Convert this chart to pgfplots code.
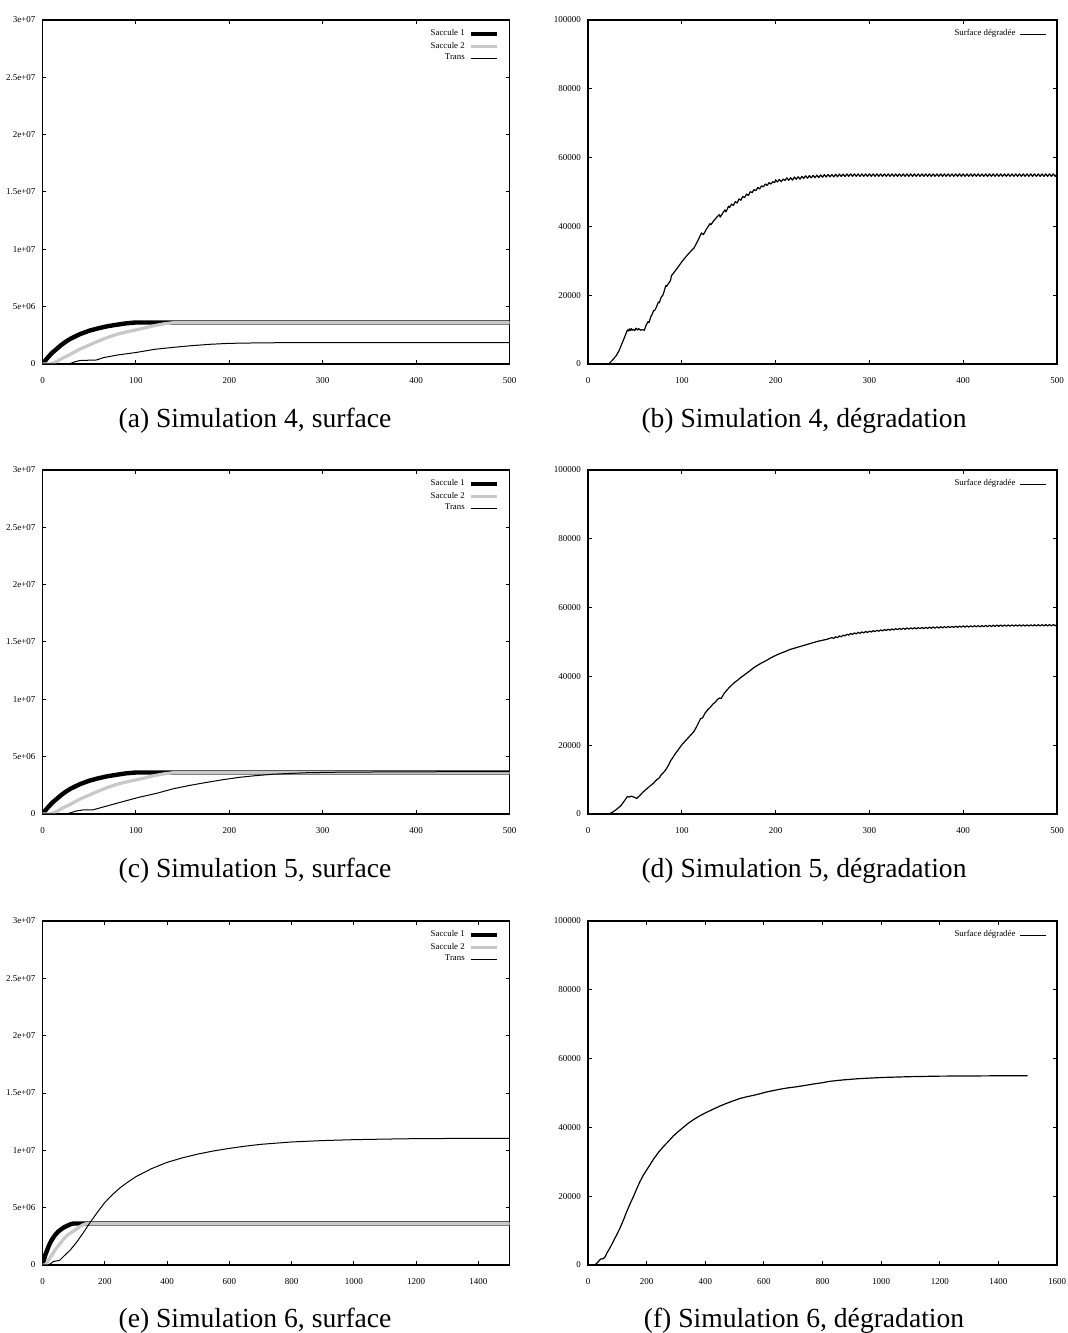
\documentclass[border=0pt]{standalone}
\usepackage{fontspec}
\setmainfont{Liberation Serif}
\usepackage{pgfplots}
\usepackage{pgfplotstable}
\pgfplotsset{compat=1.18}
\definecolor{lgray}{RGB}{200,200,200}
\pgfplotsset{
 gp/.style={
  scale only axis, anchor=south west,
  axis line style={line width=0.6pt},
  every tick/.style={black, line width=0.5pt},
  major tick length=1.8pt,
  tick align=inside,
  xtick pos=both, ytick pos=both,
  ticklabel style={font=\fontsize{4.5}{5}\selectfont},
  xticklabel style={yshift=-3pt},
  /pgf/number format/assume math mode=true,
  scaled ticks=false,
  legend style={draw=none, fill=none, at={(1,1)}, anchor=north east, xshift=-4.5pt, yshift=-3.5pt,
    font=\fontsize{4.4}{5}\selectfont, row sep=0.4pt, column sep=1.4pt, inner sep=0.5pt,
    nodes={inner sep=0.6pt}},
  legend cell align=right,
  legend plot pos=right,
  legend image code/.code={\draw[##1] (0pt,0pt) -- (13pt,0pt);},
 },
 surf/.style={gp, xmin=0, xmax=500, ymin=0, ymax=3e7,
   width=233.5pt, height=172pt,
   xtick={0,100,200,300,400,500}, xticklabels={0,100,200,300,400,500},
   ytick={0,5e6,1e7,1.5e7,2e7,2.5e7,3e7},
   yticklabels={0,5e+06,1e+07,1.5e+07,2e+07,2.5e+07,3e+07}},
 degr/.style={gp, xmin=0, xmax=500, ymin=0, ymax=100000,
   width=234.5pt, height=172pt,
   xtick={0,100,200,300,400,500}, xticklabels={0,100,200,300,400,500},
   ytick={0,20000,40000,60000,80000,100000},
   yticklabels={0,20000,40000,60000,80000,100000}},
 s1/.style={black, line width=2.2pt, line join=round},
 s2/.style={lgray, line width=1.6pt, line join=round},
 tr/.style={black, line width=0.5pt, line join=round},
 dg/.style={black, line width=0.6pt, line join=round},
}
\pgfplotstableread{
x y
0 0
5 500000
10 950000
15 1300000
20 1650000
25 1950000
30 2200000
35 2400000
40 2600000
50 2900000
60 3120000
70 3300000
80 3430000
90 3550000
100 3620000
1500 3620000
}\sacone
\pgfplotstableread{
x y
0 0
8 0
12 100000
16 250000
20 450000
30 850000
40 1300000
50 1650000
60 2000000
70 2330000
80 2600000
90 2800000
100 2970000
110 3150000
120 3350000
130 3500000
140 3600000
1500 3600000
}\sactwo
\begin{document}
\begin{tikzpicture}
\useasboundingbox (0,0) rectangle (533.5pt,666.5pt);
% (a)
\begin{axis}[surf, at={(21.25pt,484.5pt)}]
\addplot[s1] table {\sacone};
\addlegendentry{Saccule 1}
\addplot[s2] table {\sactwo};
\addlegendentry{Saccule 2}
\addplot[tr] coordinates {(0,0) (25,0) (30,50000) (35,200000) (40,300000) (50,330000) (58,350000) (65,550000) (80,780000) (100,1000000) (120,1280000) (140,1450000) (160,1600000) (180,1720000) (200,1800000) (230,1840000) (260,1860000) (500,1860000)};
\addlegendentry{Trans}
\end{axis}
% (b)
\begin{axis}[degr, at={(294pt,484.5pt)}]
\addplot[dg] coordinates {(0,0) (22,0) (26,1100) (30,2400) (33,3800) (36,5800) (39,7800) (42,9900) (43,9600) (44,10200) (45,9700) (46,10300) (47,9800) (48,10100) (50,9700) (51,10400) (53,9900) (54,10300) (56,9800) (58,10000) (60,9800) (62,11300) (64,12300) (65,12000) (67,13800) (68,14200) (70,15600) (71,15500) (73,16600) (75,18000) (76,17800) (78,19400) (80,20100) (83,22800) (84,22600) (86,23500) (88,24300) (89,25700) (90,26000) (95,27800) (100,29700) (105,31400) (110,32900) (113,33700) (117,35800) (121,38100) (123,37600) (126,39100) (130,40800) (131,40500) (134,41600) (138,42900) (140,43400) (141,42700) (144,44000) (146,44800) (147,44200) (150,45900) (151,45500) (153,46500) (155,46100) (157,47200) (159,46800) (161,48000) (163,47600) (165,48700) (167,48400) (169,49400) (171,49000) (173,50100) (175,49800) (177,50700) (179,50400) (181,51300) (183,50900) (185,51800) (187,51500) (189,52300) (191,51900) (193,52700) (195,52300) (197,53000) (199,52700)
(200,53550) (202,52900) (204,53650) (206,53000) (208,53750) (210,53350) (212,54100) (214,53400) (216,54150) (218,53450) (220,54350) (222,53700) (224,54450) (226,53750) (228,54550) (230,53950) (232,54700) (234,54000) (236,54750) (238,54100) (240,54850) (242,54150) (244,54900) (246,54200) (248,54950) (250,54300) (252,55050) (254,54350) (256,55100) (258,54400) (260,55100) (262,54400) (264,55150) (266,54450) (268,55200) (270,54500) (272,55200) (274,54500) (276,55250) (278,54550)
(280,55250) (282,54550) (284,55250) (286,54550) (288,55250) (290,54550) (292,55250) (294,54550) (296,55250) (298,54550) (300,55250) (302,54550) (304,55250) (306,54550) (308,55250) (310,54550) (312,55250) (314,54550) (316,55250) (318,54550) (320,55250) (322,54550) (324,55250) (326,54550) (328,55250) (330,54550) (332,55250) (334,54550) (336,55250) (338,54550) (340,55250) (342,54550) (344,55250) (346,54550) (348,55250) (350,54550) (352,55250) (354,54550) (356,55250) (358,54550) (360,55250) (362,54550) (364,55250) (366,54550) (368,55250) (370,54550) (372,55250) (374,54550) (376,55250) (378,54550) (380,55250) (382,54550) (384,55250) (386,54550) (388,55250) (390,54550) (392,55250) (394,54550) (396,55250) (398,54550) (400,55250) (402,54550) (404,55250) (406,54550) (408,55250) (410,54550) (412,55250) (414,54550) (416,55250) (418,54550) (420,55250) (422,54550) (424,55250) (426,54550) (428,55250) (430,54550) (432,55250) (434,54550) (436,55250) (438,54550) (440,55250) (442,54550) (444,55250) (446,54550) (448,55250) (450,54550) (452,55250) (454,54550) (456,55250) (458,54550) (460,55250) (462,54550) (464,55250) (466,54550) (468,55250) (470,54550) (472,55250) (474,54550) (476,55250) (478,54550) (480,55250) (482,54550) (484,55250) (486,54550) (488,55250) (490,54550) (492,55250) (494,54550) (496,55250) (498,54550) (500,55250)};
\addlegendentry{Surface dégradée}
\end{axis}
% (c)
\begin{axis}[surf, at={(21.25pt,259.5pt)}]
\addplot[s1] table {\sacone};
\addlegendentry{Saccule 1}
\addplot[s2] table {\sactwo};
\addlegendentry{Saccule 2}
\addplot[tr] coordinates {(0,0) (25,0) (30,100000) (36,260000) (43,350000) (54,360000) (69,700000) (87,1100000) (104,1470000) (122,1800000) (140,2200000) (158,2500000) (176,2760000) (194,3000000) (211,3200000) (229,3350000) (247,3470000) (283,3600000) (320,3650000) (400,3680000) (500,3700000)};
\addlegendentry{Trans}
\end{axis}
% (d)
\begin{axis}[degr, at={(294pt,259.5pt)}]
\addplot[dg] coordinates {(0,0) (22,0) (26,500) (30,1260) (35,2400) (39,3900) (42,5100) (44,4900) (46,5200) (48,5000) (50,4800) (52,4500) (55,5300) (58,6200) (60,6700) (63,7400) (66,8100) (70,9000) (73,9900) (76,10500) (78,11400) (80,11900) (83,12900) (85,13800) (87,14800) (88,15500) (90,16200) (93,17500) (96,18600) (100,20100) (105,21600) (110,23100) (113,24000) (116,25500) (120,27700) (122,27900) (125,29400) (128,30400) (130,30900) (133,31900) (136,32600) (138,33300) (140,33700) (142,33600) (145,35000) (148,36000) (150,36600) (153,37400) (156,38200) (160,39000) (163,39700) (166,40300) (170,41100) (173,41700) (176,42400) (180,43100) (185,43900) (190,44600) (195,45400) (200,46100) (205,46700) (210,47200) (215,47800) (220,48200) (225,48600) (230,49000) (235,49400) (240,49800) (245,50200) (250,50500) (255,50800)
(260,51280) (262,51040) (264,51520) (266,51280) (268,51760) (270,51520) (272,52000) (274,51760) (276,52240) (278,52000) (280,52480) (282,52200) (284,52640) (286,52360) (288,52800) (290,52520) (292,52940) (294,52640) (296,53060) (298,52760) (300,53180) (302,52880) (304,53300) (306,53000) (308,53420) (310,53120) (312,53530) (314,53220) (316,53630) (318,53320) (320,53730) (322,53410) (324,53810) (326,53490) (328,53890) (330,53570) (332,53960) (334,53630) (336,54020) (338,53690) (340,54080) (342,53740) (344,54120) (346,53780) (348,54160) (350,53820) (352,54200) (354,53860) (356,54240) (358,53900) (360,54280) (362,53940) (364,54320) (366,53980) (368,54360) (370,54020) (372,54400) (374,54060) (376,54440) (378,54100) (380,54480) (382,54140) (384,54520) (386,54180) (388,54560) (390,54220) (392,54600) (394,54260) (396,54640) (398,54300) (400,54680) (402,54330) (404,54700) (406,54350) (408,54720) (410,54370) (412,54740) (414,54390) (416,54760) (418,54410) (420,54780) (422,54435) (424,54810) (426,54465) (428,54840) (430,54495) (432,54870) (434,54525) (436,54900) (438,54555) (440,54930) (442,54575) (444,54940) (446,54585) (448,54950) (450,54595) (452,54960) (454,54605) (456,54970) (458,54615) (460,54980) (462,54625) (464,54990) (466,54635) (468,55000) (470,54645) (472,55010) (474,54655) (476,55020) (478,54665) (480,55030) (482,54675) (484,55040) (486,54685) (488,55050) (490,54695) (492,55060) (494,54705) (496,55070) (498,54715) (500,55080)};
\addlegendentry{Surface dégradée}
\end{axis}
% (e)
\begin{axis}[surf, at={(21.25pt,34pt)}, xmax=1500,
  xtick={0,200,400,600,800,1000,1200,1400}, xticklabels={0,200,400,600,800,1000,1200,1400}]
\addplot[s1] table {\sacone};
\addlegendentry{Saccule 1}
\addplot[s2] table {\sactwo};
\addlegendentry{Saccule 2}
\addplot[tr] coordinates {(0,0) (18,0) (25,100000) (35,300000) (45,360000) (55,400000) (67,730000) (89,1300000) (110,2000000) (132,2850000) (154,3750000) (175,4550000) (200,5450000) (225,6150000) (250,6750000) (275,7250000) (300,7700000) (350,8400000) (400,8950000) (450,9350000) (500,9680000) (550,9950000) (600,10170000) (650,10360000) (700,10520000) (800,10730000) (900,10850000) (1000,10930000) (1100,10980000) (1200,11020000) (1350,11040000) (1500,11050000)};
\addlegendentry{Trans}
\end{axis}
% (f)
\begin{axis}[degr, at={(294pt,34pt)}, xmax=1600,
  xtick={0,200,400,600,800,1000,1200,1400,1600}, xticklabels={0,200,400,600,800,1000,1200,1400,1600}]
\addplot[dg] coordinates {(0,0) (24,0) (35,970) (43,1740) (52,1840) (58,2300) (64,3400) (75,5000) (86,6800) (98,8800) (109,10700) (120,12900) (132,15500) (143,17700) (155,19900) (166,22100) (177,24200) (188,26000) (200,27600) (223,30700) (240,32700) (257,34400) (275,36000) (291,37500) (308,38800) (325,40000) (342,41200) (359,42200) (376,43100) (393,43900) (410,44600) (427,45300) (450,46200) (473,47000) (495,47700) (518,48400) (541,48900) (564,49300) (587,49800) (609,50300) (632,50700) (655,51100) (683,51500) (711,51800) (740,52200) (768,52600) (800,53000) (825,53400) (870,53800) (920,54150) (1000,54500) (1100,54750) (1200,54900) (1300,54950) (1400,55000) (1500,55000)};
\addlegendentry{Surface dégradée}
\end{axis}
% captions
\node at (127.5pt,456pt) {\fontsize{13.8}{16}\selectfont (a)~Simulation 4, surface};
\node at (402pt,456pt) {\fontsize{13.8}{16}\selectfont (b)~Simulation 4, dégradation};
\node at (127.5pt,231pt) {\fontsize{13.8}{16}\selectfont (c)~Simulation 5, surface};
\node at (402pt,231pt) {\fontsize{13.8}{16}\selectfont (d)~Simulation 5, dégradation};
\node at (127.5pt,6pt) {\fontsize{13.8}{16}\selectfont (e)~Simulation 6, surface};
\node at (402pt,6pt) {\fontsize{13.8}{16}\selectfont (f)~Simulation 6, dégradation};
\end{tikzpicture}
\end{document}
